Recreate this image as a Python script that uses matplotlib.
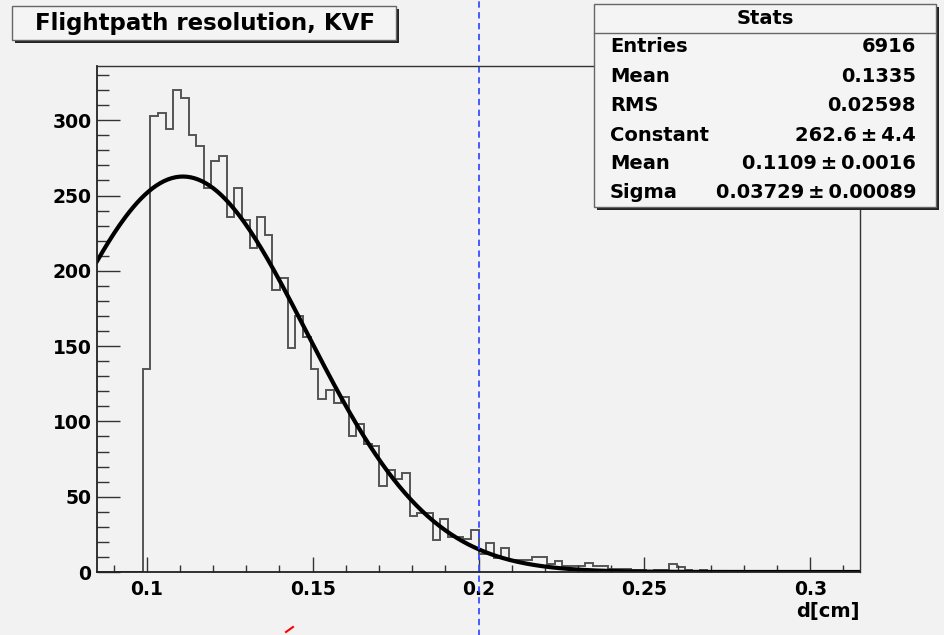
#!/usr/bin/python
import numpy as np
import matplotlib
matplotlib.use("Agg")
from matplotlib import pyplot as plt
from matplotlib.patches import Rectangle
from matplotlib.lines import Line2D
from matplotlib.ticker import MultipleLocator

# histogram binning: 100 bins from 0.085 to 0.315
x_lo, x_hi, n_bins = 0.085, 0.315, 100

# bin contents
counts = [0, 0, 0, 0, 0, 0, 135, 303, 305, 294,
          320, 315, 290, 283, 255, 273, 276, 236, 255, 234,
          215, 236, 224, 187, 195, 149, 170, 156, 135, 115,
          121, 112, 116, 90, 98, 85, 84, 57, 68, 62,
          66, 37, 39, 39, 21, 35, 23, 23, 22, 28,
          12, 19, 9, 16, 8, 8, 8, 10, 10, 5,
          7, 4, 4, 4, 6, 4, 4, 2, 2, 2,
          1, 1, 0, 1, 1, 5, 3, 1, 0, 1,
          0, 0, 0, 0, 0, 0, 0, 0, 0, 0,
          0, 0, 0, 0, 0, 0, 0, 0, 0, 0]

# gaus fit parameters from the stats box
fit_const, fit_mean, fit_sigma = 262.6, 0.1109, 0.03729

pm = "\u2009\u00b1\u2009"
stats_labels = ["Entries", "Mean", "RMS", "Constant", "Mean", "Sigma"]
stats_values = ["6916", "0.1335", "0.02598", "262.6" + pm + "4.4",
                "0.1109" + pm + "0.0016", "0.03729" + pm + "0.00089"]

title = "Flightpath resolution, KVF"
xlabel = "d[cm]"
cut_x = 0.2

W, H = 944, 635
bg = "#f2f2f2"
font = ["DejaVu Sans"]

fig = plt.figure(figsize=(W / 100.0, H / 100.0), dpi=100, facecolor=bg)

# pixel -> figure coords
def fx(x):
    return x / float(W)

def fy(y):
    return 1.0 - y / float(H)

ax = fig.add_axes([fx(97), fy(572), fx(860) - fx(97), fy(66) - fy(572)])
ax.set_facecolor(bg)

edges = np.linspace(x_lo, x_hi, n_bins + 1)
ax.stairs(counts, edges, color="#555555", lw=1.4, baseline=0)

xf = np.linspace(x_lo, x_hi, 400)
ax.plot(xf, fit_const * np.exp(-0.5 * ((xf - fit_mean) / fit_sigma) ** 2),
        color="black", lw=3)

ax.set_xlim(x_lo, x_hi)
ax.set_ylim(0, 336)

# dashed cut line runs over the whole canvas
ax.axvline(cut_x, ymin=-0.13, ymax=1.14, clip_on=False,
           color="#3a4dff", lw=1.3, dashes=(3.5, 2.5))

ax.xaxis.set_major_locator(MultipleLocator(0.05))
ax.xaxis.set_minor_locator(MultipleLocator(0.01))
ax.yaxis.set_major_locator(MultipleLocator(50))
ax.yaxis.set_minor_locator(MultipleLocator(10))
ax.set_xticks([0.1, 0.15, 0.2, 0.25, 0.3])
ax.set_xticklabels(["0.1", "0.15", "0.2", "0.25", "0.3"])

ax.tick_params(axis="both", which="both", direction="in", top=False, right=False,
               colors="#333333", labelcolor="black", width=1.0)
ax.tick_params(axis="y", which="major", length=16.5, pad=4, labelsize=13.5)
ax.tick_params(axis="y", which="minor", length=8.5)
ax.tick_params(axis="x", which="major", length=10.5, pad=6, labelsize=13.5)
ax.tick_params(axis="x", which="minor", length=5)
for lab in ax.get_xticklabels() + ax.get_yticklabels():
    lab.set_fontweight("bold")
    lab.set_family(font)

for side in ["left", "bottom"]:
    ax.spines[side].set_color("#222222")
    ax.spines[side].set_linewidth(1.3)
for side in ["top", "right"]:
    ax.spines[side].set_color("#333333")
    ax.spines[side].set_linewidth(1.0)

fig.text(fx(860), fy(612), xlabel, ha="right", va="center", fontsize=14,
         fontweight="bold", family=font)

# box with a dark drop shadow
def shadow_box(x0, y0, x1, y1, off=3):
    fig.add_artist(Rectangle((fx(x0 + off), fy(y1 + off)), fx(x1 - x0), fy(y0) - fy(y1),
                             transform=fig.transFigure, facecolor="#222222",
                             edgecolor="none", zorder=5))
    fig.add_artist(Rectangle((fx(x0), fy(y1)), fx(x1 - x0), fy(y0) - fy(y1),
                             transform=fig.transFigure, facecolor="#f4f4f4",
                             edgecolor="#666666", lw=1.0, zorder=6))

shadow_box(12, 6, 396, 40)
fig.text(fx(205), fy(23.5), title, ha="center", va="center", fontsize=16.5,
         fontweight="bold", family=font, zorder=7)

# stats box
shadow_box(594, 4, 936, 207)
fig.add_artist(Line2D([fx(594), fx(936)], [fy(33), fy(33)], transform=fig.transFigure,
                      color="#666666", lw=1.0, zorder=7))
fig.text(fx(765), fy(18), "Stats", ha="center", va="center", fontsize=14,
         fontweight="bold", family=font, zorder=7)
row_y = [46.5, 77, 105.5, 135, 163.5, 192.5]
for yy, lab, val in zip(row_y, stats_labels, stats_values):
    fig.text(fx(610), fy(yy), lab, ha="left", va="center", fontsize=14,
             fontweight="bold", family=font, zorder=7)
    fig.text(fx(916), fy(yy), val, ha="right", va="center", fontsize=14,
             fontweight="bold", family=font, zorder=7)

# small red marker fragment at the bottom edge
fig.add_artist(Line2D([fx(286), fx(293)], [fy(632), fy(627)], transform=fig.transFigure,
                      color="red", lw=1.5))

fig.savefig("out.png", dpi=100, facecolor=bg)
